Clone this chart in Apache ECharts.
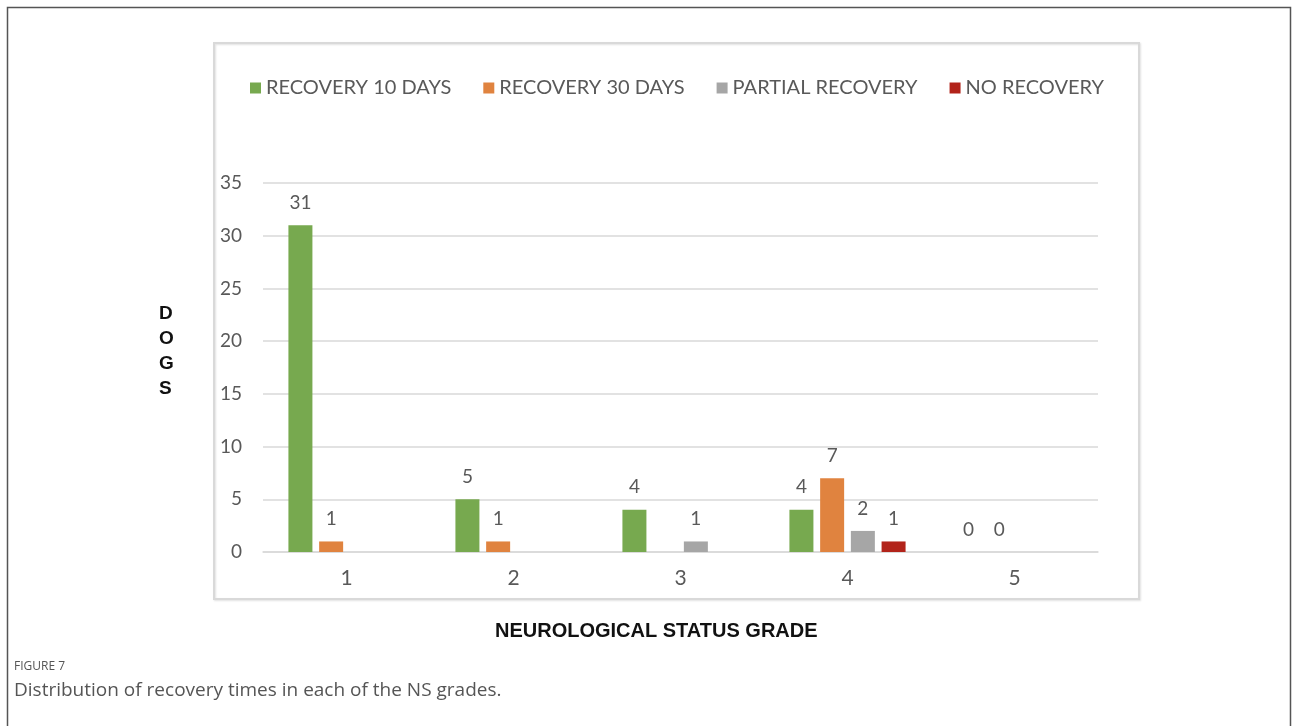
<!DOCTYPE html>
<html>
<head>
<meta charset="utf-8">
<script src="https://cdn.jsdelivr.net/npm/echarts@6/dist/echarts.min.js"></script>
<style>
  html, body { margin: 0; padding: 0; background: #ffffff; }
  #chart { width: 1293px; height: 726px; }
</style>
</head>
<body>
<div id="chart"></div>
<script>
// Neurological status grades on the x axis
const grades = ['1', '2', '3', '4', '5'];

// Number of dogs per recovery outcome (null = no bar drawn for that grade)
const recovery10Days = [31, 5, 4, 4, 0];
const recovery30Days = [1, 1, null, 7, 0];
const partialRecovery = [null, null, 1, 2, null];
const noRecovery = [null, null, null, 1, null];

const seriesNames = ['RECOVERY 10 DAYS', 'RECOVERY 30 DAYS', 'PARTIAL RECOVERY', 'NO RECOVERY'];
const seriesColors = ['#77A94F', '#E0833F', '#A6A6A6', '#B2231A'];
const seriesData = [recovery10Days, recovery30Days, partialRecovery, noRecovery];

const chart = echarts.init(document.getElementById('chart'), null, { renderer: 'canvas' });

const textGrey = '#595959';
const bodyFont = 'Lato, "Open Sans", sans-serif';

const option = {
  backgroundColor: '#ffffff',
  animation: false,
  grid: { left: 263, right: 195, top: 183, bottom: 174, containLabel: false },
  legend: {
    left: 245,
    top: 73,
    icon: 'rect',
    itemWidth: 11,
    itemHeight: 11,
    itemGap: 32,
    textStyle: { color: textGrey, fontSize: 20, fontFamily: bodyFont },
    data: seriesNames
  },
  xAxis: {
    type: 'category',
    data: grades,
    axisLine: { lineStyle: { color: '#d9d9d9', width: 1.5 } },
    axisTick: { show: false },
    axisLabel: { color: textGrey, fontSize: 21, fontFamily: bodyFont, margin: 16 }
  },
  yAxis: {
    type: 'value',
    min: 0,
    max: 35,
    interval: 5,
    axisLine: { show: false },
    axisTick: { show: false },
    axisLabel: { color: textGrey, fontSize: 19, fontFamily: bodyFont, margin: 21, align: 'right' },
    splitLine: { lineStyle: { color: '#d9d9d9', width: 1.5 } }
  },
  series: seriesNames.map((name, i) => ({
    name: name,
    type: 'bar',
    data: seriesData[i],
    barWidth: 24,
    barGap: '28%',
    itemStyle: { color: seriesColors[i] },
    label: {
      show: true,
      position: 'top',
      distance: 13,
      color: textGrey,
      fontSize: 19,
      fontFamily: bodyFont
    }
  })),
  graphic: [
    // outer figure frame
    {
      type: 'rect',
      shape: { x: 7.5, y: 7.5, width: 1283, height: 730 },
      style: { fill: 'none', stroke: '#555555', lineWidth: 1.5 },
      silent: true,
      z: -10
    },
    // chart area box
    {
      type: 'rect',
      shape: { x: 214, y: 43, width: 925, height: 556 },
      style: { fill: 'none', stroke: '#d9d9d9', lineWidth: 2,
               shadowColor: 'rgba(0,0,0,0.12)', shadowBlur: 2, shadowOffsetX: 1, shadowOffsetY: 1 },
      silent: true,
      z: -5
    },
    // vertical y-axis title
    {
      type: 'text',
      left: 159,
      top: 301,
      style: {
        text: 'D\nO\nG\nS',
        fill: '#111111',
        font: 'bold 19px "Liberation Sans", Arial, sans-serif',
        lineHeight: 25,
        align: 'center'
      }
    },
    // x-axis title
    {
      type: 'text',
      left: 495,
      top: 621,
      style: {
        text: 'NEUROLOGICAL STATUS GRADE',
        fill: '#111111',
        font: 'bold 20px "Liberation Sans", Arial, sans-serif'
      }
    },
    // figure caption
    {
      type: 'text',
      left: 14,
      top: 661,
      style: {
        text: 'FIGURE 7',
        fill: '#555555',
        font: '12px "Open Sans", Lato, sans-serif'
      }
    },
    {
      type: 'text',
      left: 14,
      top: 681,
      style: {
        text: 'Distribution of recovery times in each of the NS grades.',
        fill: '#555555',
        font: '19px "Open Sans", Lato, sans-serif'
      }
    }
  ]
};

chart.setOption(option);
</script>
</body>
</html>
